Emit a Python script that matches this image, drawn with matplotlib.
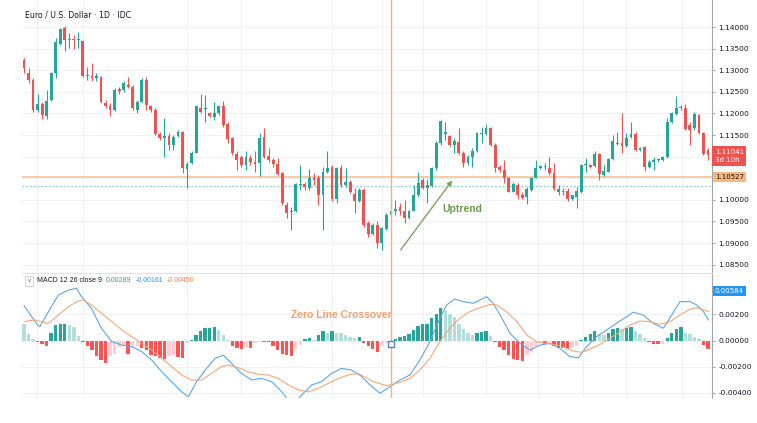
import numpy as np
import matplotlib.pyplot as plt
from matplotlib.transforms import blended_transform_factory

# EUR/USD daily candles (index 0 = leftmost candle)
opens = [1.1324, 1.1293, 1.1277, 1.1209, 1.1221, 1.1195, 1.1230, 1.1293, 1.1360, 1.1397,
         1.1369, 1.1372, 1.1370, 1.1368, 1.1287, 1.1287, 1.1281, 1.1285, 1.1223, 1.1216,
         1.1208, 1.1256, 1.1254, 1.1266, 1.1262, 1.1209, 1.1227, 1.1277, 1.1216, 1.1209,
         1.1152, 1.1143, 1.1148, 1.1127, 1.1148, 1.1156, 1.1071, 1.1085, 1.1109, 1.1212,
         1.1210, 1.1200, 1.1192, 1.1200, 1.1218, 1.1175, 1.1142, 1.1106, 1.1098, 1.1081,
         1.1096, 1.1088, 1.1085, 1.1146, 1.1101, 1.1092, 1.1082, 1.1061, 1.0989, 1.0971,
         1.0973, 1.1034, 1.1036, 1.1028, 1.1050, 1.1050, 1.1011, 1.1065, 1.1077, 1.1001,
         1.1074, 1.1034, 1.1042, 1.1013, 1.0997, 1.1023, 1.0946, 1.0920, 1.0942, 1.0901,
         1.0932, 1.0965, 1.0974, 1.0984, 1.0973, 1.0957, 1.0974, 1.1011, 1.1047, 1.1027,
         1.1033, 1.1073, 1.1131, 1.1152, 1.1148, 1.1127, 1.1133, 1.1108, 1.1086, 1.1100,
         1.1112, 1.1152, 1.1152, 1.1166, 1.1128, 1.1077, 1.1069, 1.1051, 1.1019, 1.1034,
         1.1011, 1.1007, 1.1023, 1.1051, 1.1073, 1.1076, 1.1074, 1.1061, 1.1019, 1.1021,
         1.1020, 1.1002, 1.1007, 1.1019, 1.1080, 1.1081, 1.1079, 1.1105, 1.1057, 1.1065,
         1.1094, 1.1129, 1.1131, 1.1125, 1.1146, 1.1152, 1.1115, 1.1123, 1.1077, 1.1088,
         1.1092, 1.1092, 1.1098, 1.1181, 1.1198, 1.1212, 1.1213, 1.1173, 1.1166, 1.1196,
         1.1154, 1.1115]
highs = [1.1329, 1.1304, 1.1281, 1.1246, 1.1227, 1.1254, 1.1297, 1.1374, 1.1398, 1.1403,
         1.1385, 1.1381, 1.1389, 1.1370, 1.1308, 1.1316, 1.1293, 1.1287, 1.1231, 1.1223,
         1.1258, 1.1262, 1.1274, 1.1285, 1.1266, 1.1231, 1.1281, 1.1285, 1.1220, 1.1212,
         1.1158, 1.1189, 1.1154, 1.1150, 1.1162, 1.1159, 1.1088, 1.1112, 1.1220, 1.1246,
         1.1243, 1.1204, 1.1226, 1.1220, 1.1229, 1.1181, 1.1146, 1.1112, 1.1104, 1.1112,
         1.1104, 1.1112, 1.1154, 1.1166, 1.1119, 1.1096, 1.1096, 1.1065, 1.0996, 1.0984,
         1.1038, 1.1081, 1.1042, 1.1071, 1.1061, 1.1057, 1.1077, 1.1112, 1.1081, 1.1077,
         1.1081, 1.1073, 1.1046, 1.1027, 1.1027, 1.1027, 1.0950, 1.0946, 1.0950, 1.0938,
         1.0969, 1.0999, 1.0999, 1.0992, 1.0999, 1.0976, 1.1034, 1.1065, 1.1050, 1.1048,
         1.1077, 1.1135, 1.1185, 1.1181, 1.1150, 1.1142, 1.1166, 1.1112, 1.1104, 1.1119,
         1.1158, 1.1169, 1.1175, 1.1169, 1.1131, 1.1081, 1.1092, 1.1053, 1.1042, 1.1038,
         1.1019, 1.1030, 1.1053, 1.1092, 1.1081, 1.1085, 1.1100, 1.1085, 1.1034, 1.1027,
         1.1027, 1.1011, 1.1030, 1.1084, 1.1096, 1.1084, 1.1112, 1.1108, 1.1081, 1.1096,
         1.1150, 1.1156, 1.1202, 1.1154, 1.1179, 1.1158, 1.1123, 1.1125, 1.1092, 1.1098,
         1.1096, 1.1102, 1.1189, 1.1204, 1.1240, 1.1220, 1.1221, 1.1181, 1.1204, 1.1198,
         1.1158, 1.1119]
lows = [1.1293, 1.1270, 1.1204, 1.1204, 1.1187, 1.1187, 1.1229, 1.1281, 1.1358, 1.1344,
        1.1351, 1.1348, 1.1351, 1.1285, 1.1277, 1.1274, 1.1274, 1.1223, 1.1212, 1.1195,
        1.1206, 1.1244, 1.1250, 1.1258, 1.1209, 1.1200, 1.1226, 1.1208, 1.1204, 1.1150,
        1.1138, 1.1100, 1.1115, 1.1115, 1.1146, 1.1061, 1.1028, 1.1082, 1.1108, 1.1200,
        1.1181, 1.1192, 1.1185, 1.1196, 1.1169, 1.1131, 1.1104, 1.1069, 1.1077, 1.1069,
        1.1081, 1.1065, 1.1056, 1.1096, 1.1088, 1.1077, 1.1057, 1.0989, 1.0959, 1.0930,
        1.0971, 1.1023, 1.1023, 1.1023, 1.1034, 1.0988, 1.0930, 1.1061, 1.0997, 1.0992,
        1.1030, 1.1030, 1.1015, 1.0969, 1.0996, 1.0938, 1.0915, 1.0919, 1.0888, 1.0884,
        1.0930, 1.0961, 1.0965, 1.0965, 1.0946, 1.0956, 1.0973, 1.1007, 1.1025, 1.0992,
        1.1030, 1.1069, 1.1127, 1.1139, 1.1125, 1.1108, 1.1104, 1.1077, 1.1081, 1.1077,
        1.1110, 1.1131, 1.1150, 1.1125, 1.1065, 1.1065, 1.1038, 1.1017, 1.1017, 1.1003,
        1.1003, 1.0990, 1.1021, 1.1050, 1.1071, 1.1069, 1.1057, 1.1023, 1.1011, 1.1011,
        1.0998, 1.0999, 1.0982, 1.1015, 1.1065, 1.1073, 1.1077, 1.1046, 1.1056, 1.1064,
        1.1092, 1.1128, 1.1108, 1.1123, 1.1144, 1.1112, 1.1113, 1.1067, 1.1073, 1.1069,
        1.1088, 1.1090, 1.1096, 1.1177, 1.1196, 1.1208, 1.1162, 1.1127, 1.1162, 1.1152,
        1.1104, 1.1092]
closes = [1.1304, 1.1277, 1.1209, 1.1221, 1.1196, 1.1229, 1.1294, 1.1366, 1.1395, 1.1370,
          1.1372, 1.1369, 1.1373, 1.1287, 1.1290, 1.1281, 1.1286, 1.1226, 1.1218, 1.1208,
          1.1254, 1.1252, 1.1271, 1.1262, 1.1212, 1.1226, 1.1277, 1.1220, 1.1209, 1.1152,
          1.1142, 1.1148, 1.1128, 1.1146, 1.1158, 1.1073, 1.1083, 1.1108, 1.1216, 1.1203,
          1.1213, 1.1194, 1.1200, 1.1216, 1.1173, 1.1141, 1.1108, 1.1092, 1.1081, 1.1098,
          1.1088, 1.1083, 1.1144, 1.1100, 1.1092, 1.1082, 1.1059, 1.0992, 1.0969, 1.0975,
          1.1036, 1.1037, 1.1030, 1.1050, 1.1046, 1.1011, 1.1065, 1.1074, 1.1001, 1.1074,
          1.1034, 1.1042, 1.1019, 1.0997, 1.1023, 1.0942, 1.0920, 1.0942, 1.0899, 1.0934,
          1.0965, 1.0975, 1.0978, 1.0974, 1.0957, 1.0974, 1.1011, 1.1038, 1.1027, 1.1034,
          1.1073, 1.1131, 1.1182, 1.1157, 1.1127, 1.1136, 1.1108, 1.1085, 1.1100, 1.1112,
          1.1154, 1.1154, 1.1166, 1.1127, 1.1073, 1.1069, 1.1050, 1.1019, 1.1036, 1.1011,
          1.1005, 1.1025, 1.1051, 1.1074, 1.1079, 1.1079, 1.1061, 1.1024, 1.1024, 1.1017,
          1.1002, 1.1010, 1.1020, 1.1081, 1.1082, 1.1077, 1.1105, 1.1059, 1.1067, 1.1094,
          1.1135, 1.1132, 1.1125, 1.1144, 1.1152, 1.1115, 1.1121, 1.1077, 1.1088, 1.1092,
          1.1094, 1.1100, 1.1181, 1.1200, 1.1213, 1.1215, 1.1164, 1.1162, 1.1198, 1.1154,
          1.1105, 1.1104]

# MACD histogram, one bar per candle
hist = [0.00124, 0.00047, 0.0001, -0.0001, -0.00025, -0.0004, 0.0006, 0.0012, 0.00127, 0.0013,
        0.00119, 0.00106, 0.00035, -0.00008, -0.00045, -0.0007, -0.0012, -0.0015, -0.00175, -0.0012,
        -0.001, -0.0005, -0.0004, -0.001, -0.0006, -0.00045, -0.0006, -0.0007, -0.0011, -0.0012,
        -0.00135, -0.0014, -0.0012, -0.0011, -0.0013, -0.00132, -0.0002, 0.00005, 0.00043, 0.0007,
        0.00093, 0.001, 0.00105, 0.0008, 0.0004, 0.00005, -0.0004, -0.0006, -0.00062, -0.0005,
        -0.0006, -0.0002, -0.0001, -0.00012, -0.00015, -0.00045, -0.0007, -0.001, -0.0011, -0.0012,
        -0.0007, -0.00035, 0.0001, 0.00017, 0.00005, 0.0004, 0.0007, 0.00055, 0.0007, 0.0006,
        0.00055, 0.0004, 0.0003, 0.00017, 0.00025, -0.0002, -0.00045, -0.00065, -0.00085, -0.0004,
        -0.0002, 0.0, 0.00015, 0.00027, 0.00035, 0.00047, 0.0008, 0.0011, 0.00124, 0.0013,
        0.0017, 0.002, 0.0025, 0.0023, 0.002, 0.0018, 0.0013, 0.0009, 0.0006, 0.00045,
        0.0006, 0.00062, 0.0007, 0.00035, -0.00015, -0.0005, -0.0007, -0.0011, -0.0014, -0.0015,
        -0.0016, -0.0011, -0.00085, -0.00045, -0.0002, -0.00025, -0.00022, -0.00045, -0.00055, -0.0006,
        -0.00062, -0.0005, -0.0004, 0.00005, 0.0003, 0.00047, 0.0007, 0.00047, 0.00045, 0.0006,
        0.0009, 0.00095, 0.00092, 0.001, 0.00102, 0.0007, 0.0005, 0.00017, -0.0001, -0.00025,
        -0.0003, -0.00028, 0.00017, 0.0006, 0.0009, 0.00105, 0.00055, 0.00047, 0.0003, 0.0001,
        -0.00035, -0.00065]

# MACD line (blue) read at these candle positions
macd_x = [0, 3, 3.5, 5.4, 7.6, 9.8, 11.6, 12.7, 14.9, 17.1, 19.4, 21.6, 23.8, 26, 28.2, 30.4,
          32.6, 34.8, 36.3, 38.1, 40, 42.2, 44, 45.8, 48, 50.3, 52.5, 54.7, 56.9, 58, 59.7,
          61.3, 63.5, 65.7, 67.9, 70.1, 72.3, 74.3, 76.4, 78.6, 80.8, 83, 85.2, 87.4, 89.6,
          91.8, 93.3, 95.1, 97, 99.2, 100.7, 102.1, 103.6, 105.1, 107.3, 109.5, 111.7, 113.9,
          116.1, 118.3, 120.5, 122.4, 124.2, 126.4, 128.6, 130.8, 133, 134.5, 136.7, 138.9,
          141.1, 143, 144.8, 147, 148.5, 150, 151.1]
macd_y = [0.00268, 0.00119, 0.00106, 0.00222, 0.0035, 0.00388, 0.00401, 0.00337, 0.00247,
          0.00094, -0.00009, -0.00035, -0.00047, -0.00086, -0.0015, -0.0024, -0.00317, -0.00394,
          -0.00432, -0.00317, -0.00227, -0.00137, -0.00112, -0.00176, -0.00253, -0.00304,
          -0.00291, -0.00317, -0.00394, -0.00445, -0.0048, -0.00419, -0.00342, -0.00317,
          -0.00253, -0.00214, -0.00227, -0.0027, -0.00342, -0.00406, -0.00355, -0.00304,
          -0.00265, -0.0015, -0.00009, 0.0017, 0.00273, 0.00319, 0.00299, 0.00286, 0.00312,
          0.00337, 0.00286, 0.00196, 0.00055, -0.00022, -0.00073, -0.00035, -0.00022, -0.0006,
          -0.00124, -0.00132, -0.00047, 0.00029, 0.00081, 0.00132, 0.00183, 0.00217, 0.00196,
          0.00132, 0.00094, 0.00196, 0.00299, 0.00299, 0.00273, 0.00222, 0.00158]

# signal line (orange)
signal_x = [0, 2.4, 5.4, 7.6, 9.8, 12, 13.1, 14.9, 17.1, 19.4, 21.6, 23.8, 26, 28.2, 30.4,
            32.6, 34.8, 37, 39.2, 41.4, 43.6, 45.1, 47.3, 49.5, 51.7, 53.9, 56.1, 58.4, 60.6,
            62.8, 65, 67.2, 69.4, 71.6, 73.8, 77.1, 80.1, 83, 85.2, 87.4, 89.6, 91.8, 94, 96.2,
            98.4, 100.7, 102.9, 104.3, 106.5, 108.8, 111, 113.2, 115.4, 118.3, 121.3, 123.1,
            125, 127.2, 129.4, 131.6, 133.8, 136, 138.2, 140.4, 142.6, 144.8, 147, 148.5, 150,
            151.1]
signal_y = [0.00145, 0.00158, 0.00132, 0.00196, 0.0026, 0.00304, 0.00312, 0.00273, 0.00209,
            0.00145, 0.00081, 0.00029, -0.00022, -0.00073, -0.00137, -0.00201, -0.00265,
            -0.00304, -0.00304, -0.00253, -0.00201, -0.00188, -0.00209, -0.0024, -0.0026,
            -0.00265, -0.00291, -0.00342, -0.00381, -0.00394, -0.00368, -0.00329, -0.00291,
            -0.00265, -0.00253, -0.00317, -0.00347, -0.00322, -0.00291, -0.00227, -0.00137,
            -0.00009, 0.00094, 0.00171, 0.00222, 0.00253, 0.00278, 0.00273, 0.00222, 0.00145,
            0.00042, -0.00009, -0.00022, -0.0004, -0.00081, -0.00091, -0.00065, -0.00029,
            0.00017, 0.00068, 0.00119, 0.0015, 0.00145, 0.00124, 0.00145, 0.00196, 0.0024,
            0.00253, 0.00235, 0.00222]

price_ticks = [1.085, 1.09, 1.095, 1.10, 1.105, 1.11, 1.115, 1.12, 1.125, 1.13, 1.135, 1.14]
hidden_price_labels = [1.105, 1.11]   # covered by the price boxes in the reference
macd_ticks = [-0.004, -0.002, 0.0, 0.002]
month_lines = [2.8, 13, 36, 48, 68, 79, 88, 102, 113.5, 123.5, 133, 145.3]
cross_day = 81
last_price = 1.11041
marked_price = 1.10527
dotted_price = 1.1033
legend_parts = ['MACD 12 26 close 9', '0.00289', '-0.00161', '-0.00450']

GREEN = '#26a69a'
RED = '#ef5350'
GRID = '#eef1f6'
TXT = '#131722'

W, H = 757, 423
fig = plt.figure(figsize=(W / 100, H / 100), dpi=100)
ax1 = fig.add_axes([22 / W, 1 - 273 / H, 690 / W, 273 / H])
ax2 = fig.add_axes([22 / W, 1 - 398 / H, 690 / W, 125 / H], sharex=ax1)

n = len(opens)
x = np.arange(n)
o = np.array(opens)
c = np.array(closes)
col = np.where(c >= o, GREEN, RED)

ax1.vlines(x, lows, highs, color=col, lw=0.8, zorder=3)
ax1.bar(x, np.maximum(np.abs(c - o), 0.00007), bottom=np.minimum(o, c), width=0.62,
        color=col, lw=0, zorder=4)

ax1.axhline(marked_price, color='#f6bd8c', lw=1.1, zorder=2)
ax1.axhline(dotted_price, color='#8fcbc6', lw=0.9, ls=(0, (1.5, 1.5)), zorder=2)
for ax in (ax1, ax2):
    ax.axvline(cross_day, color='#f2b27a', lw=1, zorder=5)

ax1.set_xlim(-0.44, 151.88)
ax1.set_ylim(1.08306, 1.14625)
ax1.set_yticks(price_ticks)
ax1.set_yticklabels(['' if any(abs(t - hp) < 1e-9 for hp in hidden_price_labels) else '%.5f' % t
                     for t in price_ticks])

# histogram colours follow the TradingView rule (rising / falling)
h = np.array(hist)
prev = np.concatenate([[h[0] + 1], h[:-1]])
hcol = np.where(h >= 0, np.where(h > prev, '#26a69a', '#b2dfdb'),
                np.where(h < prev, '#ff5252', '#ffcdd2'))
ax2.bar(x, h, width=0.75, color=hcol, lw=0, zorder=3)
ax2.plot(macd_x, macd_y, color='#5aa7e6', lw=0.8, zorder=4)
ax2.plot(signal_x, signal_y, color='#f4a774', lw=0.8, zorder=4)
ax2.plot([cross_day], [-0.0003], marker='s', ms=5, mfc='white', mec='#4f86c6', mew=1, zorder=6)
ax2.set_ylim(-0.00442, 0.00519)
ax2.set_yticks(macd_ticks)
ax2.set_yticklabels(['%.5f' % t for t in macd_ticks])

for ax in (ax1, ax2):
    ax.set_xticks(month_lines)
    ax.tick_params(axis='x', length=0, labelbottom=False)
    ax.yaxis.tick_right()
    ax.tick_params(axis='y', length=2.5, width=0.6, color='#9598a1', pad=2,
                   labelsize=5.3, labelcolor=TXT)
    ax.grid(True, color=GRID, lw=0.8)
    ax.set_axisbelow(True)
    for s in ('left', 'bottom'):
        ax.spines[s].set_visible(False)
    ax.spines['right'].set_color('#a3a6af')
    ax.spines['right'].set_linewidth(0.8)
    ax.spines['top'].set_visible(False)
ax2.spines['top'].set_visible(True)
ax2.spines['top'].set_color('#e0e3eb')
ax2.spines['top'].set_linewidth(0.8)

# price scale boxes
tr1 = blended_transform_factory(ax1.transAxes, ax1.transData)
ax1.text(1.004, last_price - 0.0003, '1.11041\n3d 10h', transform=tr1, fontsize=5, color='white',
         va='center', ha='left', linespacing=1.5,
         bbox=dict(boxstyle='square,pad=0.35', fc=RED, ec='none'))
ax1.text(1.004, marked_price, '%.5f' % marked_price, transform=tr1, fontsize=5, color=TXT,
         va='center', ha='left', bbox=dict(boxstyle='square,pad=0.3', fc='#f8b77b', ec='none'))
tr2 = blended_transform_factory(ax2.transAxes, ax2.transData)
ax2.text(1.004, 0.0038, '0.00584', transform=tr2, fontsize=5, color='white', va='center',
         ha='left', bbox=dict(boxstyle='square,pad=0.3', fc='#2196f3', ec='none'))

# annotations
ax1.annotate('', xy=(94.9, 1.1050), xytext=(82.8, 1.0879),
             arrowprops=dict(arrowstyle='-|>', color='#7ea35e', lw=1, mutation_scale=7))
ax1.text(96.7, 1.0979, 'Uptrend', color='#6c9a4c', fontsize=7.5, fontweight='bold',
         family='Liberation Sans', ha='center', va='center')
ax2.text(70, 0.00196, 'Zero Line Crossover', color='#f0a06a', fontsize=7.5, fontweight='bold',
         family='Liberation Sans', ha='center', va='center')

# header texts
fig.text(25 / W, 1 - 15 / H, 'Euro / U.S. Dollar \u00b7 1D \u00b7 IDC', fontsize=5.6, color=TXT,
         va='center', ha='left')
fig.text(29 / W, 1 - 281 / H, 'v', fontsize=4.2, color='#555', va='center', ha='center',
         family='Liberation Sans',
         bbox=dict(boxstyle='square,pad=0.35', fc='white', ec='#c8cad0', lw=0.6))

# legend pieces placed one after another
leg_colors = [TXT, GREEN, '#2196f3', '#f57c3a']
renderer = fig.canvas.get_renderer()
xpos = 37
for txt, cc in zip(legend_parts, leg_colors):
    t = fig.text(xpos / W, 1 - 281 / H, txt, fontsize=5, color=cc, va='center', ha='left',
                 family='Liberation Sans')
    xpos += t.get_window_extent(renderer).width + 4

fig.savefig('out.png', dpi=100)
